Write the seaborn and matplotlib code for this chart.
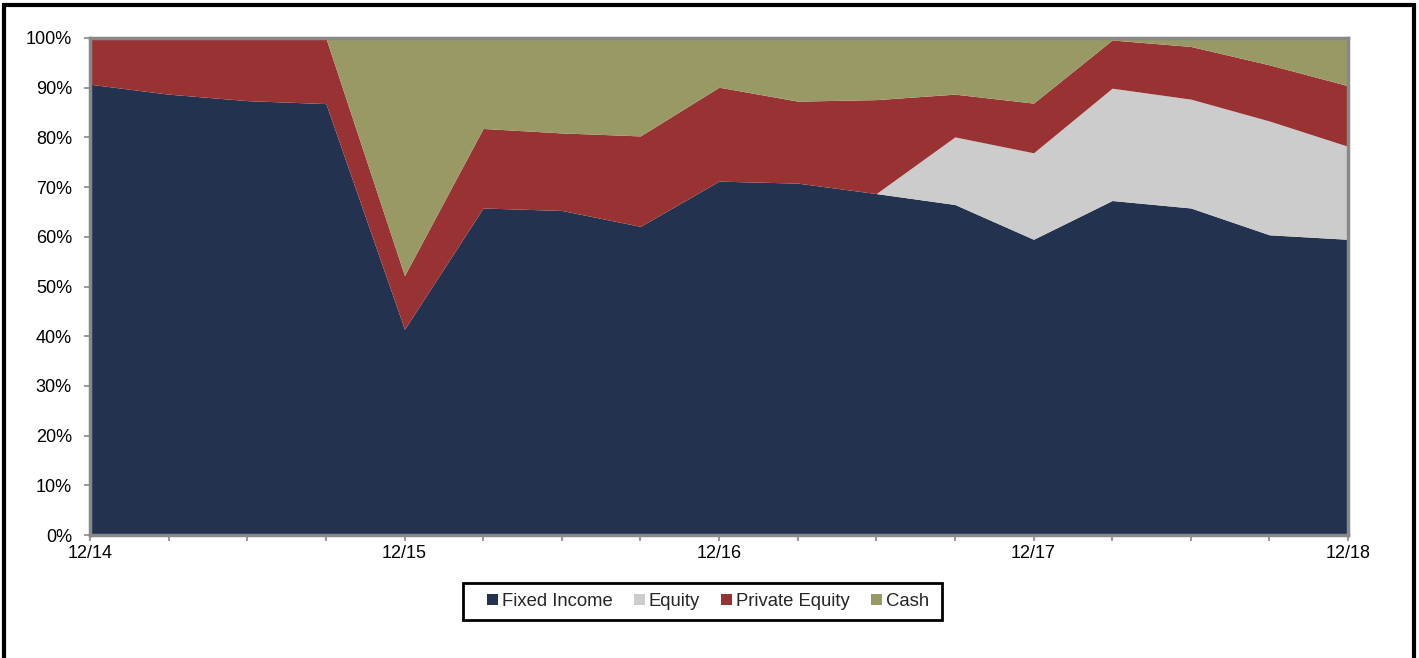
import numpy as np
import pandas as pd
import matplotlib
matplotlib.use("Agg")
import matplotlib.pyplot as plt
from matplotlib.patches import Rectangle, Patch
import seaborn as sns

quarters = ["12/14", "3/15", "6/15", "9/15", "12/15", "3/16", "6/16", "9/16", "12/16",
            "3/17", "6/17", "9/17", "12/17", "3/18", "6/18", "9/18", "12/18"]
fixed_income = [90.7, 88.7, 87.4, 86.8, 41.4, 65.8, 65.3, 62.1, 71.2, 70.8, 68.7, 66.5, 59.5, 67.3, 65.8, 60.4, 59.5]
equity = [0, 0, 0, 0, 0, 0, 0, 0, 0, 0, 0, 13.6, 17.4, 22.6, 21.9, 22.9, 18.7]
private_equity = [9.3, 11.3, 12.6, 13.2, 10.8, 16.0, 15.6, 18.2, 18.9, 16.5, 18.9, 8.6, 10.0, 9.7, 10.6, 11.3, 12.2]
cash = [round(100 - a - b - c, 1) for a, b, c in zip(fixed_income, equity, private_equity)]
series_names = ["Fixed Income", "Equity", "Private Equity", "Cash"]
colors = ["#23334F", "#CCCCCC", "#993333", "#999966"]

df = pd.DataFrame({"Fixed Income": fixed_income, "Equity": equity,
                   "Private Equity": private_equity, "Cash": cash}, index=quarters)

sns.set_theme(style="white")
plt.rcParams['font.family'] = ['Liberation Sans', 'DejaVu Sans']

fig = plt.figure(figsize=(14.19, 6.58), dpi=100)
W, H = 1419, 658
ax = fig.add_axes([90 / W, 1 - 535 / H, (1348 - 90) / W, (535 - 38) / H])

x = np.arange(len(quarters))
ax.stackplot(x, *[df[c].values for c in series_names], colors=colors, labels=series_names, linewidth=0)

ax.set_xlim(0, len(quarters) - 1)
ax.set_ylim(0, 100)
ax.set_xticks(x)
ax.set_xticklabels([q if q.startswith("12/") else "" for q in quarters])
ax.set_yticks(np.arange(0, 101, 10))
ax.set_yticklabels([f"{v}%" for v in range(0, 101, 10)])
for s in ax.spines.values():
    s.set_color("#888888")
    s.set_linewidth(2.5)
ax.tick_params(axis="both", which="both", direction="out", length=4, width=1.2,
               color="#888888", labelsize=13, labelcolor="black",
               bottom=True, left=True)
ax.tick_params(axis="y", pad=9)
ax.tick_params(axis="x", pad=3)

handles = [Patch(facecolor=c, edgecolor="none") for c in colors]
leg = fig.legend(handles, series_names, loc="center", bbox_to_anchor=(708 / W, 1 - 601.5 / H),
                 ncol=4, frameon=False, fontsize=13.3, handlelength=0.6,
                 handleheight=0.6, handletextpad=0.2, columnspacing=1.15, borderpad=0.3,
                 borderaxespad=0)

# legend box outline
fig.patches.append(Rectangle((463 / W, 1 - 620 / H), (942 - 463) / W, 37 / H, transform=fig.transFigure,
                             fill=False, edgecolor="black", linewidth=2))
# outer chart border
fig.patches.append(Rectangle((4 / W, -0.05), (1414 - 4) / W, 1.05 - 5 / H, transform=fig.transFigure,
                             fill=False, edgecolor="black", linewidth=3))

fig.savefig("out.png", dpi=100)
